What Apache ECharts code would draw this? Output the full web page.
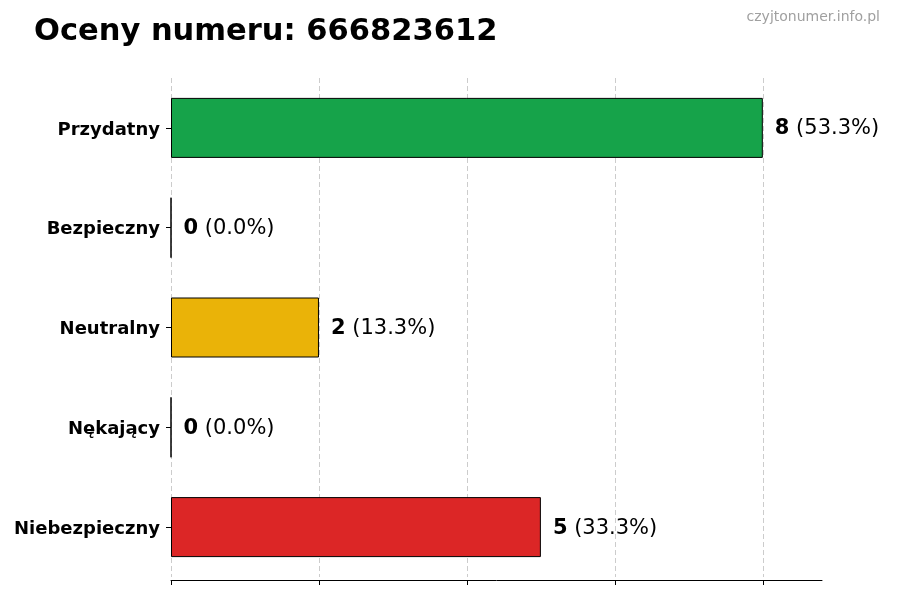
<!DOCTYPE html>
<html>
<head>
<meta charset="utf-8">
<script src="https://cdn.jsdelivr.net/npm/echarts@6/dist/echarts.min.js"></script>
<style>html,body{margin:0;padding:0;background:#fff}#c{width:900px;height:600px}</style>
</head>
<body>
<div id="c"></div>
<script>
const categories = ['Przydatny', 'Bezpieczny', 'Neutralny', 'Nękający', 'Niebezpieczny'];
const values = [8, 0, 2, 0, 5];
const percents = ['53.3%', '0.0%', '13.3%', '0.0%', '33.3%'];
const colors = ['#16a34a', '#22c55e', '#eab308', '#f97316', '#dc2626'];
const xTicks = [0, 2, 4, 6, 8];

const FONT = 'DejaVu Sans';
const chart = echarts.init(document.getElementById('c'), null, {renderer: 'canvas'});
chart.setOption({
  animation: false,
  backgroundColor: '#fff',
  textStyle: {fontFamily: FONT},
  title: [
    {text: 'Oceny numeru: 666823612', left: 34, top: 17, padding: 0,
     textStyle: {fontFamily: FONT, fontSize: 30.5, fontWeight: 'bold', color: '#000'}},
    {text: 'czyjtonumer.info.pl', right: 20, top: 10, padding: 0,
     textStyle: {fontFamily: FONT, fontSize: 14, fontWeight: 'normal', color: '#a0a0a0'}}
  ],
  grid: {left: 171, right: 78, top: 78, bottom: 23, containLabel: false},
  xAxis: {
    type: 'value', min: 0, max: 8.8, interval: 2, offset: 3,
    axisLine: {show: true, lineStyle: {color: '#000', width: 1}},
    axisTick: {show: true, length: 5, lineStyle: {color: '#000'},
               customValues: xTicks},
    axisLabel: {show: false},
    splitLine: {show: true, lineStyle: {color: '#cccccc', type: [5, 3], width: 1}}
  },
  yAxis: {
    type: 'category', data: categories, inverse: true,
    axisLine: {show: false},
    axisTick: {show: true, alignWithLabel: true, length: 5, lineStyle: {color: '#000'}},
    axisLabel: {margin: 11,
                formatter: v => '{a|' + v + '}',
                rich: {a: {fontFamily: FONT, fontSize: 18, fontWeight: 'bold', color: '#000',
                           padding: [4, 0, 0, 0]}}}
  },
  series: [{
    type: 'bar',
    barWidth: 60,
    data: values.map((v, i) => ({value: v, itemStyle: {color: colors[i]}})),
    itemStyle: {borderColor: '#000', borderWidth: 1},
    label: {
      show: true, position: 'right', distance: 12,
      formatter: p => '{b|' + values[p.dataIndex] + '}{n| (' + percents[p.dataIndex] + ')}',
      rich: {
        b: {fontFamily: FONT, fontSize: 21, fontWeight: 'bold', color: '#000', padding: [2, 0, 0, 0]},
        n: {fontFamily: FONT, fontSize: 21, color: '#000', padding: [2, 0, 0, 0]}
      }
    }
  }]
});
</script>
</body>
</html>
